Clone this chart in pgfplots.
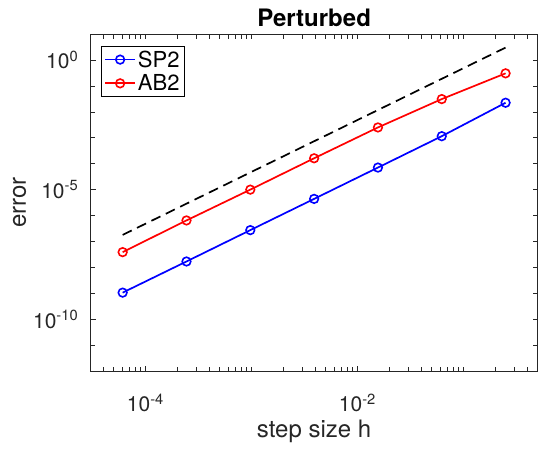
\documentclass[border=0pt]{standalone}
\usepackage{pgfplots}
\pgfplotsset{compat=1.18}
\usepackage{fontspec}
\setmainfont{TeX Gyre Heros}
\definecolor{axgray}{gray}{0.15}
\begin{document}
\begin{tikzpicture}
\begin{loglogaxis}[
  scale only axis,
  width=446.5pt, height=337pt,
  xmin=3.0517578125e-5, xmax=0.5,
  ymin=1e-12, ymax=1e1,
  xtick={1e-4,1e-2},
  xticklabels={10\textsuperscript{-4},10\textsuperscript{-2}},
  minor xtick={4e-5,5e-5,6e-5,7e-5,8e-5,9e-5,2e-4,3e-4,4e-4,5e-4,6e-4,7e-4,8e-4,9e-4,1e-3,2e-3,3e-3,4e-3,5e-3,6e-3,7e-3,8e-3,9e-3,2e-2,3e-2,4e-2,5e-2,6e-2,7e-2,8e-2,9e-2,1e-1,2e-1,3e-1,4e-1},
  ytick={1e-10,1e-5,1},
  yticklabels={10\textsuperscript{-10},10\textsuperscript{-5},10\textsuperscript{0}},
  minor ytick={1e-12,1e-11,1e-9,1e-8,1e-7,1e-6,1e-4,1e-3,1e-2,1e-1,1e1},
  tick align=inside,
  major tick length=5pt, minor tick length=4.5pt,
  axis line style={axgray, line width=0.8pt},
  every tick/.style={axgray, line width=0.6pt},
  tick label style={font=\fontsize{21}{25}\selectfont, text=axgray},
  xticklabel style={yshift=-19pt},
  yticklabel style={xshift=-9pt},
  label style={font=\fontsize{24}{28}\selectfont, text=axgray},
  xlabel={step size h},
  ylabel={error},
  xlabel style={yshift=-1pt},
  ylabel style={yshift=0pt},
  title={\textbf{Perturbed}},
  title style={font=\fontsize{24}{28}\selectfont, yshift=-2pt},
  legend style={at={(rel axis cs:0.024,0.965)}, anchor=north west, draw=black, line width=0.6pt,
    font=\fontsize{22}{26}\selectfont, inner sep=2.5pt, row sep=2pt},
  legend cell align=left,
  legend image code/.code={\draw[mark repeat=2,mark phase=2] plot coordinates {(0pt,0pt) (15pt,0pt) (30pt,0pt)};},
]
\addplot[blue, line width=1.7pt, mark=o, mark size=4.3pt, mark options={line width=1.6pt}] coordinates {
(6.103515625e-5,1.07e-9) (2.44140625e-4,1.7e-8) (9.765625e-4,2.75e-7) (3.90625e-3,4.4e-6) (1.5625e-2,7.1e-5) (6.25e-2,1.15e-3) (0.25,2.24e-2)};
\addlegendentry{SP2}
\addplot[red, line width=1.7pt, mark=o, mark size=4.3pt, mark options={line width=1.6pt}] coordinates {
(6.103515625e-5,3.9e-8) (2.44140625e-4,6.5e-7) (9.765625e-4,1.0e-5) (3.90625e-3,1.62e-4) (1.5625e-2,2.5e-3) (6.25e-2,3.1e-2) (0.25,0.305)};
\addlegendentry{AB2}
\addplot[black, line width=1.7pt, dash pattern=on 10pt off 6pt, forget plot] coordinates {
(6.103515625e-5,1.8e-7) (0.25,3.0)};
\end{loglogaxis}
\pgfresetboundingbox
\path ([shift={(-90.7pt,-80pt)}]current axis.south west) rectangle ([shift={(0.5pt,34pt)}]current axis.north east);
\end{tikzpicture}
\end{document}
